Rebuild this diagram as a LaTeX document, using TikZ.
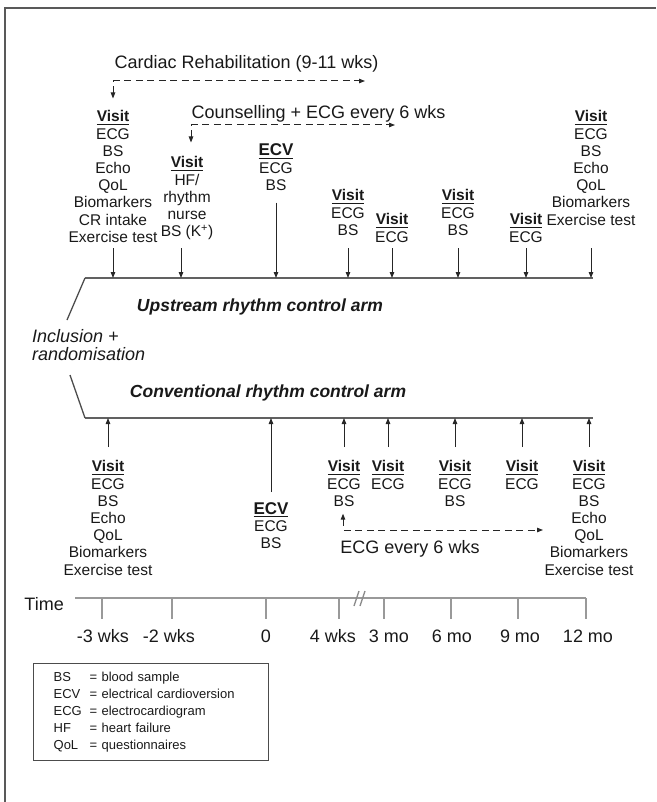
\documentclass[tikz,border=0pt]{standalone}
\usepackage{fontspec}
\setmainfont{Liberation Sans}
\usepackage{xcolor}
\usetikzlibrary{arrows.meta,positioning,calc}

% underlined bold heading of a visit column
\newcommand{\hd}[1]{\vtop{\hbox{\bfseries #1}\kern1.6pt\hrule height 1.3pt}}

\begin{document}
\begin{tikzpicture}[x=1pt, y=-1pt,
    col/.style={align=center, inner sep=0pt, anchor=north, text=black!90, font=\fontsize{15.5}{17.2}\selectfont},
    note/.style={inner sep=0pt, anchor=base, text=black!90, font=\fontsize{18}{18}\selectfont},
    armlabel/.style={inner sep=0pt, anchor=base, text=black!90, font=\fontsize{17.5}{18}\selectfont\bfseries\itshape},
    arm/.style={line width=2.4pt, black!62},
    slant/.style={line width=1.3pt, black!70},
    arr/.style={line width=1pt, black!85, -{Triangle[length=6pt,width=4.5pt]}},
    dasharr/.style={line width=1pt, black!85, dash pattern=on 7pt off 4.5pt,
      {Triangle[length=6pt,width=4.5pt]}-{Triangle[length=6pt,width=4.5pt]}},
    tick/.style={line width=2.6pt, black!40},
  ]
    \useasboundingbox (0,0) rectangle (656,802);
    % Frame
    \draw[line width=2pt, black!65] (5,802) -- (5,8) -- (656,8);

    % Arm lines
    \coordinate (upA) at (85,278);
    \coordinate (upB) at (593,278);
    \coordinate (loA) at (85,418);
    \coordinate (loB) at (593,418);
    \coordinate (upS) at (67,320);
    \coordinate (loS) at (70,375);
    \draw[arm] (upA) -- (upB);
    \draw[arm] (loA) -- (loB);
    \draw[slant] (upS) -- (upA);
    \draw[slant] (loS) -- (loA);

    \node[note, font=\fontsize{18}{18}\selectfont\itshape, align=left, anchor=north west] (incl) at (32,329.6) {Inclusion +\\randomisation};
    \node[armlabel] (uplab) at (260,311.3) {Upstream rhythm control arm};
    \node[armlabel] (lolab) at (268,397.3) {Conventional rhythm control arm};

    % Upstream arm visits
    \node[col] (u1) at (113,110.5) {\hd{Visit}\\ECG\\BS\\Echo\\QoL\\Biomarkers\\CR intake\\Exercise test};
    \node[col] (u2) at (187,156.5) {\hd{Visit}\\HF/\\rhythm\\nurse\\BS (K\textsuperscript{+})};
    \node[col] (u3) at (276,143.9) {\hd{\fontsize{17}{17.2}\selectfont ECV}\\ECG\\BS};
    \node[col] (u4) at (348,189.5) {\hd{Visit}\\ECG\\BS};
    \node[col] (u5) at (392,213.5) {\hd{Visit}\\ECG};
    \node[col] (u6) at (458,189.5) {\hd{Visit}\\ECG\\BS};
    \node[col] (u7) at (526,213.5) {\hd{Visit}\\ECG};
    \node[col] (u8) at (591,110.5) {\hd{Visit}\\ECG\\BS\\Echo\\QoL\\Biomarkers\\Exercise test};

    \coordinate (us) at (0,248);
    \foreach \c in {u1,u4,u5,u6,u7,u8} {
        \draw[arr] (\c |- us) -- (\c |- upA);
    }
    \draw[arr] ([xshift=-6pt]u2 |- us) -- ([xshift=-6pt]u2 |- upA);
    \draw[arr] ([yshift=-12pt]u3.south) -- (u3 |- upA);

    % Conventional arm visits
    \node[col] (l1) at (108,460.5) {\hd{Visit}\\ECG\\BS\\Echo\\QoL\\Biomarkers\\Exercise test};
    \node[col] (l3) at (271,502) {\hd{\fontsize{17}{17.2}\selectfont ECV}\\ECG\\BS};
    \node[col] (l4) at (344,460.5) {\hd{Visit}\\ECG\\BS};
    \node[col] (l5) at (388,460.5) {\hd{Visit}\\ECG};
    \node[col] (l6) at (455,460.5) {\hd{Visit}\\ECG\\BS};
    \node[col] (l7) at (522,460.5) {\hd{Visit}\\ECG};
    \node[col] (l8) at (589,460.5) {\hd{Visit}\\ECG\\BS\\Echo\\QoL\\Biomarkers\\Exercise test};

    \coordinate (ls) at (0,447);
    \foreach \c in {l1,l4,l5,l6,l7,l8} {
        \draw[arr] (\c |- ls) -- (\c |- loA);
    }
    \draw[arr] ([yshift=10pt]l3.north) -- (l3 |- loA);

    % Follow-up programmes
    \node[note] (crtxt) at (246.5,68.4) {Cardiac Rehabilitation (9-11 wks)};
    \coordinate (crR) at (365,81);
    \draw[dasharr] ([yshift=12pt]u1.north) |- (crR);

    \node[note] (cntxt) at (318.5,118.5) {Counselling + ECG every 6 wks};
    \coordinate (cnR) at (395,125);
    \draw[dasharr] ([xshift=4pt,yshift=14pt]u2.north) |- (cnR);

    \node[note] (ectxt) at (410,553.4) {ECG every 6 wks};
    \coordinate (ecR) at (543,530);
    \draw[dasharr] ([xshift=-1pt,yshift=-7pt]l4.south) |- (ecR);

    % Time axis
    \coordinate (tA) at (75,598);
    \coordinate (tB) at (586,598);
    \draw[tick] (tA) -- (tB);
    \node[note, anchor=east] (time) at (64,604.5) {Time};
    \foreach \x/\lx/\t in {102/103/-3 wks, 172/169/-2 wks, 266/266/0, 339/333/4 wks,
                           384/389/3 mo, 451/452/6 mo, 518/520/9 mo, 586/588/12 mo} {
        \draw[tick] (\x,598) -- (\x,619);
        \node[note] at (\lx,642.4) {\t};
    }
    % axis break
    \draw[line width=1.4pt, black!45] (354,606) -- (359,591) (360,606) -- (365,591);

    % Legend
    \node[draw=black!70, line width=1.3pt, anchor=north west, minimum width=235pt, minimum height=97pt,
          text width=195pt, inner xsep=20pt, align=left, text=black!90,
          font=\fontsize{13}{16.8}\selectfont] (legend) at (33,663)
        {\makebox[36pt][l]{BS}= blood sample\\
         \makebox[36pt][l]{ECV}= electrical cardioversion\\
         \makebox[36pt][l]{ECG}= electrocardiogram\\
         \makebox[36pt][l]{HF}= heart failure\\
         \makebox[36pt][l]{QoL}= questionnaires};
\end{tikzpicture}
\end{document}
